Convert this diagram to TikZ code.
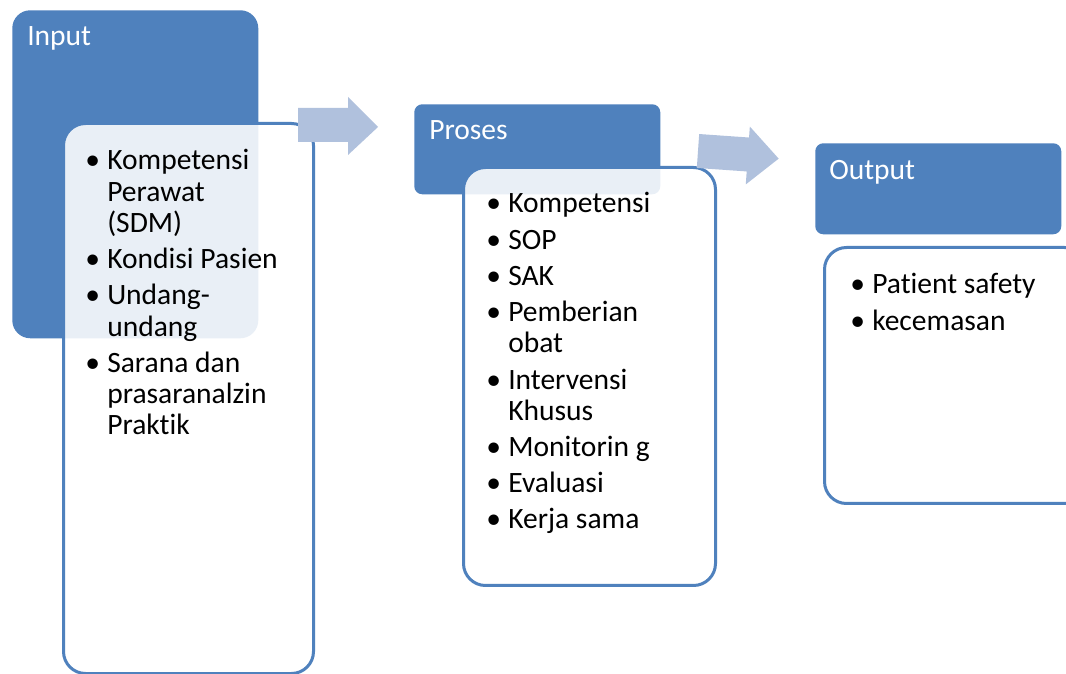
\documentclass[tikz,border=0pt]{standalone}
\usepackage{fontspec}
\setmainfont{Carlito}[Ligatures=NoCommon]
\usetikzlibrary{positioning}
\definecolor{hdblue}{HTML}{4F81BD}
\definecolor{arrblue}{HTML}{B0C1DD}
\newlength{\px}
\setlength{\px}{0.025cm}
\newcommand{\bul}{\makebox[22\px][l]{\textbullet}}

\tikzset{
  head/.style={rectangle, fill=hdblue, draw=none, anchor=north west, inner sep=0pt},
  body/.style={rectangle, draw=hdblue, line width=3\px, fill=white, fill opacity=0.88,
    anchor=north west, inner sep=0pt, rounded corners=22\px},
  title/.style={text=white, anchor=base west, inner sep=0pt, font=\fontsize{21pt}{22pt}\selectfont},
  list/.style={anchor=base west, inner sep=0pt, font=\fontsize{21pt}{22.2pt}\selectfont},
  flowarrow/.style={fill=arrblue, draw=none}
}

\begin{document}
\begin{tikzpicture}[x=\px, y=-\px]
  \clip (0,0) rectangle (1066,674);
  \fill[white] (0,0) rectangle (1066,674);

  % input
  \node[head, rounded corners=18\px, minimum width=246\px, minimum height=328\px] (inHead) at (12,10) {};
  \node[body, minimum width=250\px, minimum height=550\px] (inBody) at (62,122) {};
  \node[title] (inTitle) at (27,46) {Input};
  \node[list] (inList) at (85,170) {\begin{tabular}[t]{@{}l@{}l@{}}
    \bul & Kompetensi\\
         & Perawat\\
         & (SDM)\\[5\px]
    \bul & Kondisi Pasien\\[5\px]
    \bul & Undang-\\
         & undang\\[5\px]
    \bul & Sarana dan\\
         & prasaranalzin\\
         & Praktik
  \end{tabular}};

  % proses
  \node[head, rounded corners=8\px, minimum width=246\px, minimum height=90\px] (procHead) at (414,104) {};
  \node[body, minimum width=252\px, minimum height=418\px] (procBody) at (462,166) {};
  \node[title] (procTitle) at (429,140) {Proses};
  \node[list] (procList) at (486,213) {\begin{tabular}[t]{@{}l@{}l@{}}
    \bul & Kompetensi\\[5\px]
    \bul & SOP\\[5\px]
    \bul & SAK\\[5\px]
    \bul & Pemberian\\
         & obat\\[5\px]
    \bul & Intervensi\\
         & Khusus\\[5\px]
    \bul & Monitorin g\\[5\px]
    \bul & Evaluasi\\[5\px]
    \bul & Kerja sama
  \end{tabular}};

  % output
  \node[head, rounded corners=8\px, minimum width=246\px, minimum height=91\px] (outHead) at (815,143) {};
  \node[body, minimum width=262\px, minimum height=256\px] (outBody) at (823,246) {};
  \node[title] (outTitle) at (829,180) {Output};
  \node[list] (outList) at (850,294) {\begin{tabular}[t]{@{}l@{}l@{}}
    \bul & Patient safety\\[5\px]
    \bul & kecemasan
  \end{tabular}};

  % arrows
  \begin{scope}[shift={(298,125)}]
    \fill[flowarrow] (0,-17) -- (50,-17) -- (50,-28) -- (80,2) -- (50,30) -- (50,17) -- (0,17) -- cycle;
  \end{scope}
  \begin{scope}[shift={(698,151)}, rotate=-4]
    \fill[flowarrow] (0,-17) -- (50,-17) -- (50,-28) -- (81,2) -- (50,30) -- (50,17) -- (0,17) -- cycle;
  \end{scope}
\end{tikzpicture}
\end{document}
